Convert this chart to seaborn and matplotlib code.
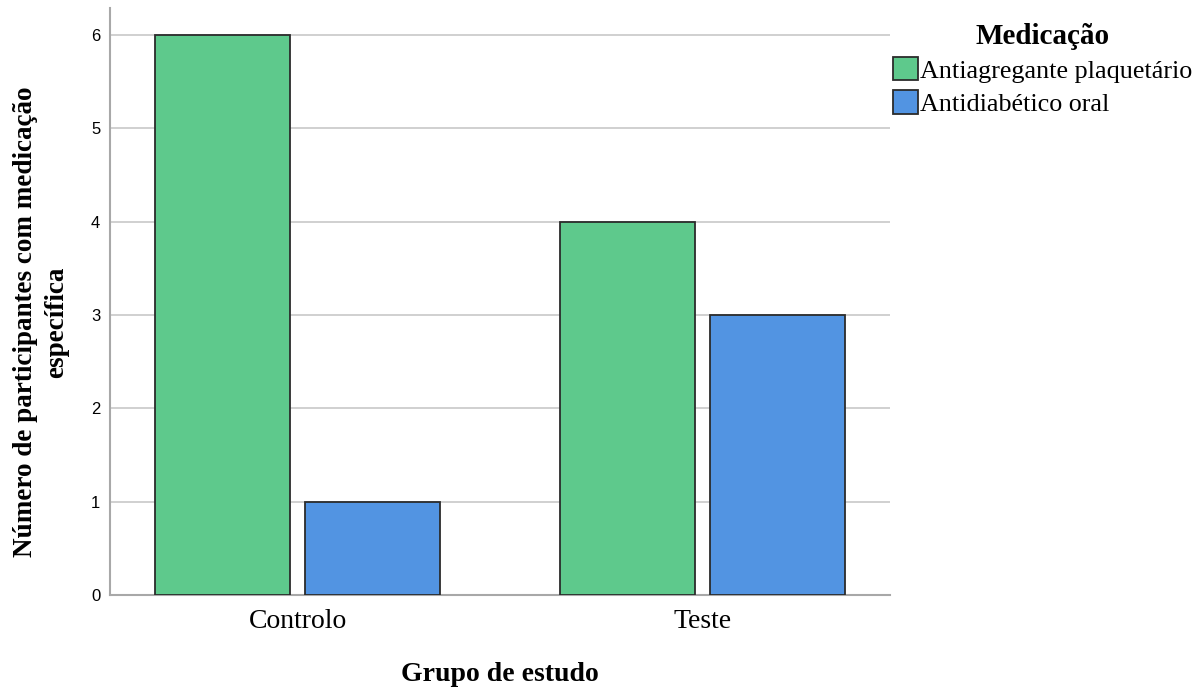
import matplotlib
matplotlib.use("Agg")
import matplotlib.pyplot as plt
import seaborn as sns
import pandas as pd

grupos = ["Controlo", "Teste"]
medicacoes = ["Antiagregante plaquetário", "Antidiabético oral"]
antiagregante = [6, 4]
antidiabetico = [1, 3]
cores = ["#5ec98c", "#5294e2"]

df = pd.DataFrame({
    "Grupo": grupos * 2,
    "Medicação": [medicacoes[0]] * 2 + [medicacoes[1]] * 2,
    "Valor": antiagregante + antidiabetico,
})

sns.set_theme(style="white")
serif = ["Liberation Serif", "DejaVu Serif"]
plt.rcParams["font.family"] = serif
plt.rcParams.update({"text.color": "black", "axes.labelcolor": "black",
                     "xtick.color": "black", "ytick.color": "black"})

fig = plt.figure(figsize=(11.99, 6.88), dpi=100)
ax = fig.add_axes([110 / 1199, 1 - 595 / 688, 780 / 1199, 587 / 688])

sns.barplot(data=df, x="Grupo", y="Valor", hue="Medicação", order=grupos,
            hue_order=medicacoes, palette=cores, width=0.74, gap=0.1,
            edgecolor="#2b2b2b", linewidth=1.3, saturation=1, ax=ax, zorder=3)

ax.set_xlim(-0.463, 1.463)
ax.set_ylim(0, 6.29)
ax.set_yticks(range(0, 7))
ax.yaxis.grid(True, color="#c8c8c8", linewidth=1.2, zorder=0)
ax.set_axisbelow(True)
for s in ["top", "right"]:
    ax.spines[s].set_visible(False)
for s in ["left", "bottom"]:
    ax.spines[s].set_color("#a8a8a8")
    ax.spines[s].set_linewidth(1.5)

ax.tick_params(axis="x", length=0, pad=10, labelsize=20, labelcolor="black")
ax.tick_params(axis="y", length=3, color="#a8a8a8", pad=4, labelsize=12, labelcolor="black")
for lab in ax.get_yticklabels():
    lab.set_family(["Liberation Sans", "DejaVu Sans"])
for lab in ax.get_xticklabels():
    lab.set_family(serif)

ax.set_xlabel("Grupo de estudo", fontsize=20, fontweight="bold", labelpad=20)
ax.set_ylabel("Número de participantes com medicação\nespecífica", fontsize=19.5,
              fontweight="bold", linespacing=1.35)
ax.yaxis.set_label_coords(-0.052, 0.465)

handles, labels = ax.get_legend_handles_labels()
if ax.legend_:
    ax.legend_.remove()
leg = fig.legend(handles, labels, title="Medicação", loc="upper left",
                 bbox_to_anchor=(893 / 1199, 1 - 23 / 688), frameon=False,
                 fontsize=18.8, title_fontproperties={"weight": "bold", "size": 21, "family": serif},
                 handlelength=0.95, handleheight=1.0, handletextpad=0.1,
                 labelspacing=0.3, borderaxespad=0, borderpad=0)
leg._legend_box.sep = 5

fig.savefig("out.png", dpi=100)
